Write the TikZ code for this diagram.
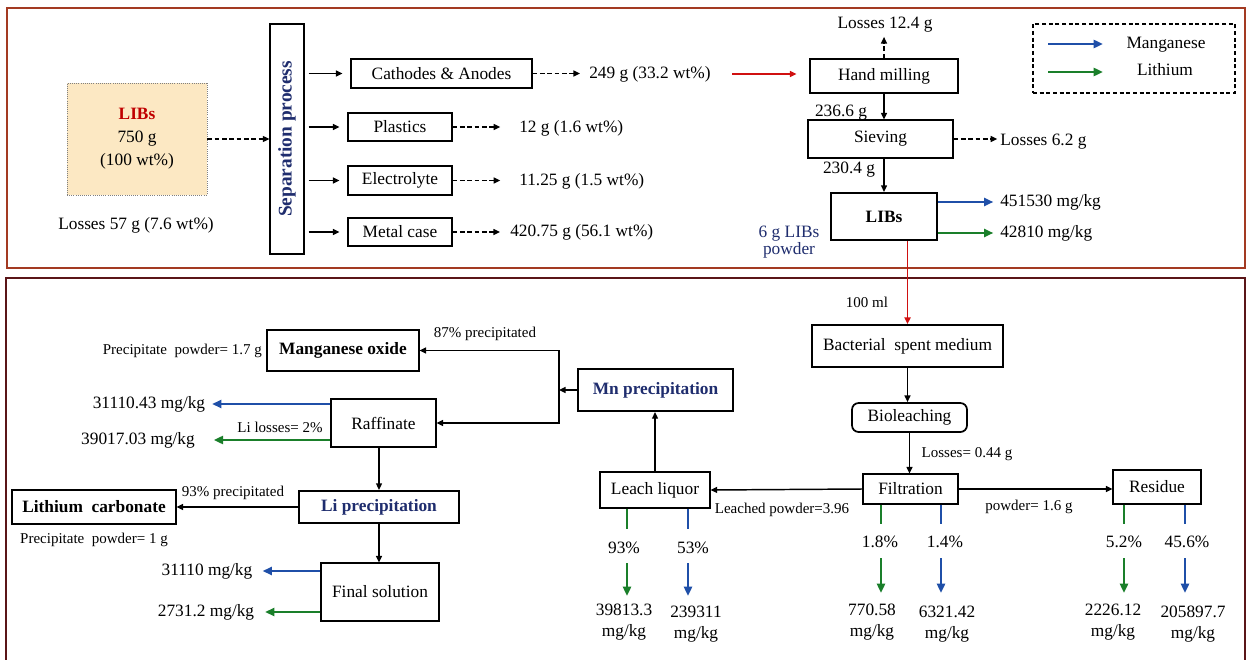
\documentclass[tikz,border=0pt]{standalone}
\usepackage{fontspec}
\setmainfont{Liberation Serif}
\usetikzlibrary{arrows.meta,calc}
\definecolor{navy}{HTML}{1F2D6E}
\definecolor{libred}{HTML}{C00000}
\definecolor{arrred}{HTML}{D01010}
\definecolor{mnblue}{HTML}{1F4FA8}
\definecolor{ligreen}{HTML}{1A7F2A}
\definecolor{frametop}{HTML}{A33A22}
\definecolor{framebot}{HTML}{5A1518}
\definecolor{libfill}{HTML}{FCE8C3}
\begin{document}
\begin{tikzpicture}[x=0.75pt,y=-0.75pt,
  every node/.style={inner sep=0pt, font=\fontsize{13}{15.75}\selectfont},
  sz/.style 2 args={minimum width={#1*0.75pt},minimum height={#2*0.75pt}},
  box/.style={draw=black, line width=0.8pt, fill=white},
  tbox/.style={draw=black, line width=1.6pt, fill=white},
  mbox/.style={draw=black, line width=1.3pt, fill=white},
  sm/.style={font=\fontsize{11.25}{14}\selectfont},
  bf/.style={font=\fontsize{13}{15.75}\selectfont\bfseries},
  tip/.style={-{Triangle[length=5pt,width=4.5pt]}},
  arr/.style={tip, line width=1.1pt},
  darr/.style={tip, line width=1pt, dash pattern=on 3.5pt off 2pt},
  barr/.style={-{Triangle[length=7pt,width=6pt]}, line width=1.9pt, mnblue},
  garr/.style={-{Triangle[length=7pt,width=6pt]}, line width=1.9pt, ligreen},
  bln/.style={line width=1.9pt, mnblue},
  gln/.style={line width=1.9pt, ligreen},
]
\fill[white] (0,0) rectangle (1250,660);
\useasboundingbox (0,0) rectangle (1250,660);

% frames
\draw[frametop, line width=2pt] (7,8) rectangle (1245,268);
\draw[framebot, line width=2pt] (6,278) rectangle (1245,668);

% ---------- top part ----------
\node[draw=gray, densely dotted, line width=0.6pt, fill=libfill, sz={140}{112}, align=center,
  font=\fontsize{13}{17.25}\selectfont] (libs0) at (137,139)
  {\textcolor{libred}{\textbf{LIBs}}\\750 g\\(100 wt\%)};
\node (loss57) at (136,225) {Losses 57 g (7.6 wt\%)};
\node[box, sz={34}{230}] (sep) at (287,139) {};
\node[rotate=90, font=\fontsize{14.5}{16}\selectfont\bfseries, text=navy] (sept) at (sep) {Separation process};
\draw[darr] (libs0.east) -- (sep.west);

\node[box, sz={181}{29}] (cath) at (441.5,73.5) {Cathodes \& Anodes};
\node[box, sz={104}{28}] (plast) at (400,127) {Plastics};
\node[box, sz={104}{29}] (elec) at (400,180.5) {Electrolyte};
\node[box, sz={104}{28}] (metal) at (400,232) {Metal case};
\foreach \b in {cath,plast,elec,metal}
  \draw[arr, shorten <=3pt, shorten >=6pt] (sep.east |- \b.west) -- (\b.west);

\node[anchor=west] (v1) at (589,74) {249 g (33.2 wt\%)};
\node[anchor=west] (v2) at (519,128) {12 g (1.6 wt\%)};
\node[anchor=west] (v3) at (519,181) {11.25 g (1.5 wt\%)};
\node[anchor=west] (v4) at (510,232) {420.75 g (56.1 wt\%)};
\draw[darr, shorten >=6.75pt] (cath.east) -- (cath.east -| v1.west);
\draw[darr, shorten >=14pt] (plast.east) -- (plast.east -| v2.west);
\draw[darr, shorten >=14pt] (elec.east) -- (elec.east -| v3.west);
\draw[darr, shorten >=7.5pt] (metal.east) -- (metal.east -| v4.west);

\node[box, sz={148}{34}] (hand) at (884,76) {Hand milling};
\draw[arr, arrred, shorten <=16pt, shorten >=9.75pt] (v1.east) -- (v1.east -| hand.west);
\node (l124) at (885,25) {Losses 12.4 g};
\draw[darr, shorten >=3pt] (hand.north) -- (hand.north |- l124.south);
\node[box, sz={145}{38}] (siev) at (880.5,139) {Sieving};
\draw[arr] (hand.south) -- (hand.south |- siev.north);
\node (g2366) at (841,113) {236.6 g};
\node[anchor=west] (l62) at (1000,142) {Losses 6.2 g};
\draw[darr, shorten >=2pt] (siev.east) -- (siev.east -| l62.west);
\node (g2304) at (849,170) {230.4 g};
\node[tbox, bf, sz={106}{47}] (libs1) at (884,216.5) {LIBs};
\draw[arr] (libs1.north |- siev.south) -- (libs1.north);
\node[anchor=west] (mn1) at (1000,202) {451530 mg/kg};
\node[anchor=west] (li1) at (1000,233) {42810 mg/kg};
\draw[barr, shorten >=5pt] (libs1.east |- mn1.west) -- (mn1.west);
\draw[garr, shorten >=5pt] (libs1.east |- li1.west) -- (li1.west);
\node[text=navy, align=center, font=\fontsize{13}{11.5}\selectfont] (powder6) at (789,242) {6 g LIBs\\powder};

% legend
\node[draw, line width=1pt, dash pattern=on 3pt off 2pt, sz={202}{69}] (legend) at (1134,58.5) {};
\coordinate (lb1) at (1048,44); \coordinate (lb2) at (1103,44);
\coordinate (lg1) at (1048,72); \coordinate (lg2) at (1103,72);
\draw[barr] (lb1) -- (lb2);
\draw[garr] (lg1) -- (lg2);
\node (legmn) at (1166,45) {Manganese};
\node (legli) at (1165,70) {Lithium};

% ---------- bottom part ----------
\node[mbox, sz={191}{42}] (bsm) at (907.5,346) {Bacterial\ \ spent medium};
\draw[arr, arrred, line width=1.3pt] (bsm.north |- libs1.south) -- (bsm.north);
\node[sm] (ml100) at (867,302) {100 ml};
\node[mbox, rounded corners=5pt, sz={115}{29}] (biol) at (909.5,417.5) {Bioleaching};
\draw[arr] (bsm.south) -- (bsm.south |- biol.north);
\node[box, sz={95}{30}] (filt) at (910.5,489) {Filtration};
\draw[arr] (biol.south) -- (biol.south |- filt.north);
\node[sm] (l044) at (967,454) {Losses= 0.44 g};
\node[box, sz={88}{34}] (resid) at (1157,487) {Residue};
\draw[arr] (filt.east) -- (filt.east -| resid.west);
\node[sm] (p16) at (1029,507) {powder= 1.6 g};
\node[box, sz={110}{36}] (leach) at (655,490) {Leach liquor};
\draw[arr] (filt.west) -- (leach.east);
\node[sm] (lp396) at (782,510) {Leached powder=3.96};
\node[tbox, bf, text=navy, sz={155}{42}] (mnp) at (655.5,390) {Mn precipitation};
\draw[arr] (leach.north) -- (leach.north |- mnp.south);
\coordinate (brk) at (559,390);
\draw[arr] (mnp.west) -- (brk);
\node[box, bf, sz={152}{41}] (mno) at (343,350.5) {Manganese oxide};
\node[box, sz={105}{48}] (raff) at (383.5,423) {Raffinate};
\draw[arr] (brk) |- (mno.east);
\draw[arr] (brk) |- (raff.east);
\node[sm] (p87) at (485,334) {87\% precipitated};
\node[sm, anchor=east] (pp17) at (262,351) {Precipitate\ \ powder= 1.7 g};
\node (mn2) at (149,404) {31110.43 mg/kg};
\node (li2) at (138,440) {39017.03 mg/kg};
\draw[barr, shorten >=5pt] (raff.west |- mn2.east) -- (mn2.east);
\draw[garr, shorten >=14pt] (raff.west |- li2.east) -- (li2.east);
\node[sm] (lil2) at (280,427) {Li losses= 2\%};
\node[tbox, bf, text=navy, sz={160}{32}] (lip) at (379,507) {Li precipitation};
\draw[arr] (lip.north |- raff.south) -- (lip.north);
\node[box, bf, sz={164}{34}] (lic) at (94,507) {Lithium\ \ carbonate};
\draw[arr] (lip.west) -- (lic.east);
\node[sm] (p93) at (233,493) {93\% precipitated};
\node[sm] (pp1) at (94,540) {Precipitate\ \ powder= 1 g};
\node[box, sz={118}{58}] (fin) at (380,592) {Final solution};
\draw[arr] (lip.south) -- (lip.south |- fin.north);
\node (mn3) at (207,571) {31110 mg/kg};
\node (li3) at (206,612) {2731.2 mg/kg};
\draw[barr, shorten >=7.5pt] (fin.west |- mn3.east) -- (mn3.east);
\draw[garr, shorten >=8pt] (fin.west |- li3.east) -- (li3.east);

% split arrows under Leach liquor
\coordinate (c1a) at (627,529); \coordinate (c1b) at (627,563); \coordinate (c1c) at (627,596);
\coordinate (c2a) at (688,529); \coordinate (c2b) at (688,563); \coordinate (c2c) at (688,596);
\draw[gln] (leach.south -| c1a) -- (c1a); \draw[garr] (c1b) -- (c1c);
\draw[bln] (leach.south -| c2a) -- (c2a); \draw[barr] (c2b) -- (c2c);
\node (q1) at (624,548) {93\%};
\node (q2) at (693,548) {53\%};
\node[align=center] (r1) at (624,622) {39813.3\\mg/kg};
\node[align=center] (r2) at (696,624) {239311\\mg/kg};

% split arrows under Filtration
\coordinate (c3a) at (881,524); \coordinate (c3b) at (881,558); \coordinate (c3c) at (881,593);
\coordinate (c4a) at (941,524); \coordinate (c4b) at (941,558); \coordinate (c4c) at (941,593);
\draw[gln] (filt.south -| c3a) -- (c3a); \draw[garr] (c3b) -- (c3c);
\draw[bln] (filt.south -| c4a) -- (c4a); \draw[barr] (c4b) -- (c4c);
\node (q3) at (880,542) {1.8\%};
\node (q4) at (945,542) {1.4\%};
\node[align=center] (r3) at (872,622) {770.58\\mg/kg};
\node[align=center] (r4) at (947,624) {6321.42\\mg/kg};

% split arrows under Residue
\coordinate (c5a) at (1124,524); \coordinate (c5b) at (1124,558); \coordinate (c5c) at (1124,593);
\coordinate (c6a) at (1185,524); \coordinate (c6b) at (1185,558); \coordinate (c6c) at (1185,593);
\draw[gln] (resid.south -| c5a) -- (c5a); \draw[garr] (c5b) -- (c5c);
\draw[bln] (resid.south -| c6a) -- (c6a); \draw[barr] (c6b) -- (c6c);
\node (q5) at (1124,542) {5.2\%};
\node (q6) at (1187,542) {45.6\%};
\node[align=center] (r5) at (1113,622) {2226.12\\mg/kg};
\node[align=center] (r6) at (1193,624) {205897.7\\mg/kg};
\end{tikzpicture}
\end{document}
